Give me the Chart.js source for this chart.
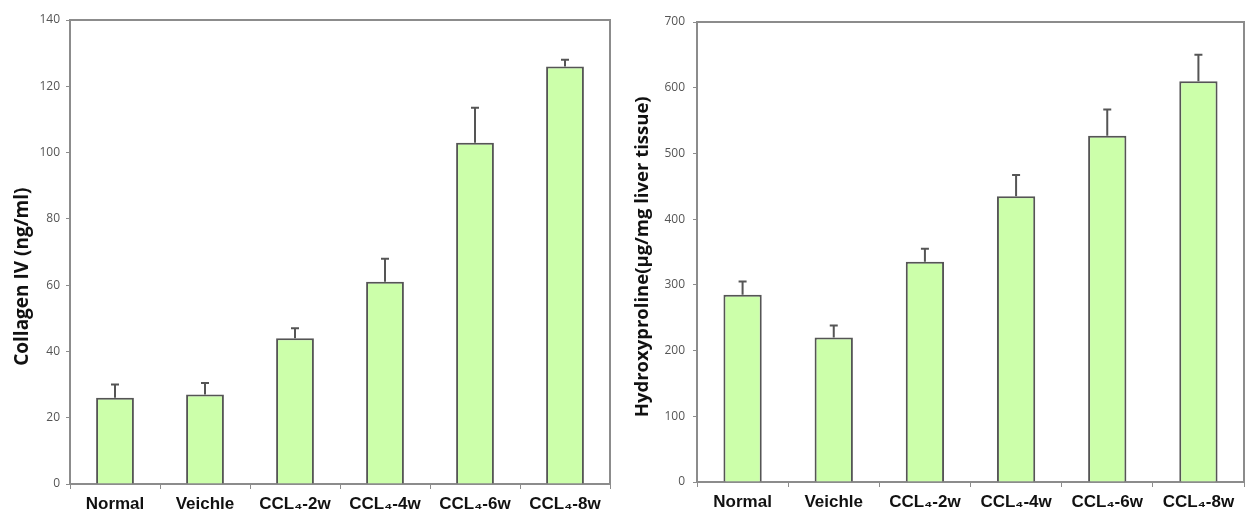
<!DOCTYPE html>
<html>
<head>
<meta charset="utf-8">
<script src="https://cdn.jsdelivr.net/npm/chart.js@4.4.0/dist/chart.umd.min.js"></script>
<style>
    html, body { margin: 0; padding: 0; background: #fff; }
    .wrap { position: absolute; top: 0; width: 624px; height: 516px; }
    #leftWrap { left: 0; }
    #rightWrap { left: 624px; }
</style>
</head>
<body>
<div class="wrap" id="leftWrap"><canvas id="collagenChart" width="624" height="516"></canvas></div>
<div class="wrap" id="rightWrap"><canvas id="hypChart" width="624" height="516"></canvas></div>
<script>
// Data
const groups = ['Normal', 'Veichle', 'CCL\u2084-2w', 'CCL\u2084-4w', 'CCL\u2084-6w', 'CCL\u2084-8w'];

const collagenMeans = [26, 27, 44, 61, 103, 126];
const collagenErr = [4, 3.5, 3, 7, 10.5, 2];
const collagenTicks = [0, 20, 40, 60, 80, 100, 120, 140];

const hypMeans = [285, 220, 335, 435, 527, 610];
const hypErr = [20, 18, 20, 32, 40, 40];
const hypTicks = [0, 100, 200, 300, 400, 500, 600, 700];

const AXIS_GREY = '#8c8c8c';
const BAR_FILL = '#ccffaa';
const BAR_EDGE = '#555555';

// draws the error bars (upper whisker only) through the chart's own scales
const errorBarPlugin = {
    id: 'errorBars',
    afterDatasetsDraw(chart, args, opts) {
        const { ctx } = chart;
        const yScale = chart.scales.y;
        const meta = chart.getDatasetMeta(0);
        const means = chart.data.datasets[0].data;
        ctx.save();
        ctx.strokeStyle = BAR_EDGE;
        ctx.lineWidth = 2;
        meta.data.forEach((bar, i) => {
            const yTop = yScale.getPixelForValue(means[i] + opts.errors[i]);
            ctx.beginPath();
            ctx.moveTo(bar.x, bar.y);
            ctx.lineTo(bar.x, yTop);
            ctx.moveTo(bar.x - 4, yTop);
            ctx.lineTo(bar.x + 4, yTop);
            ctx.stroke();
        });
        ctx.restore();
    }
};

// top and right edges of the plot box
const frameBoxPlugin = {
    id: 'frameBox',
    afterDraw(chart) {
        const { ctx, chartArea: a } = chart;
        ctx.save();
        ctx.strokeStyle = AXIS_GREY;
        ctx.lineWidth = 2;
        ctx.beginPath();
        ctx.moveTo(a.left, a.top);
        ctx.lineTo(a.right, a.top);
        ctx.lineTo(a.right, a.bottom);
        ctx.stroke();
        ctx.restore();
    }
};

function makeChart(canvasId, means, errors, ticks, title, geo) {
    const ctx = document.getElementById(canvasId).getContext('2d');
    return new Chart(ctx, {
        type: 'bar',
        data: {
            labels: groups,
            datasets: [{
                data: means,
                backgroundColor: BAR_FILL,
                borderColor: BAR_EDGE,
                borderWidth: 2,
                barPercentage: 0.84,
                categoryPercentage: 0.5
            }]
        },
        options: {
            responsive: false,
            animation: false,
            devicePixelRatio: 1,
            layout: {
                padding: { left: 0, right: geo.padRight, top: geo.padTop, bottom: 0 }
            },
            plugins: {
                legend: { display: false },
                tooltip: { enabled: false },
                errorBars: { errors: errors }
            },
            scales: {
                x: {
                    grid: {
                        offset: true,
                        drawOnChartArea: false,
                        color: AXIS_GREY,
                        tickLength: 5,
                        lineWidth: 1
                    },
                    border: { color: AXIS_GREY, width: 2 },
                    ticks: {
                        color: '#111',
                        padding: 5,
                        maxRotation: 0,
                        autoSkip: false,
                        font: { family: "'Liberation Sans', Arial, sans-serif", size: 17, weight: 'bold' }
                    },
                    afterFit(scale) { scale.height = geo.xHeight; }
                },
                y: {
                    min: ticks[0],
                    max: ticks[ticks.length - 1],
                    afterBuildTicks(scale) { scale.ticks = ticks.map(v => ({ value: v })); },
                    grid: {
                        drawOnChartArea: false,
                        color: AXIS_GREY,
                        tickLength: 4
                    },
                    border: { color: AXIS_GREY, width: 2 },
                    ticks: {
                        color: '#555',
                        padding: geo.tickPad,
                        font: { family: "'Open Sans', sans-serif", size: 12 }
                    },
                    title: {
                        display: true,
                        text: title,
                        color: '#111',
                        padding: { top: geo.titlePad, bottom: 0 },
                        font: { family: "'Open Sans', sans-serif", size: geo.titleSize, weight: 'bold' }
                    },
                    afterFit(scale) { scale.width = geo.yWidth; }
                }
            }
        },
        plugins: [errorBarPlugin, frameBoxPlugin]
    });
}

// trailing spaces push the visible title centre down, as in the figure
makeChart('collagenChart', collagenMeans, collagenErr, collagenTicks, 'Collagen IV (ng/ml)          ',
    { padRight: 14, padTop: 20, xHeight: 32, yWidth: 70, tickPad: 6, titlePad: 11, titleSize: 19 });

makeChart('hypChart', hypMeans, hypErr, hypTicks, 'Hydroxyproline(\u03bcg/mg liver tissue)  ',
    { padRight: 4, padTop: 22, xHeight: 34, yWidth: 73, tickPad: 8, titlePad: 8, titleSize: 18.5 });
</script>
</body>
</html>
